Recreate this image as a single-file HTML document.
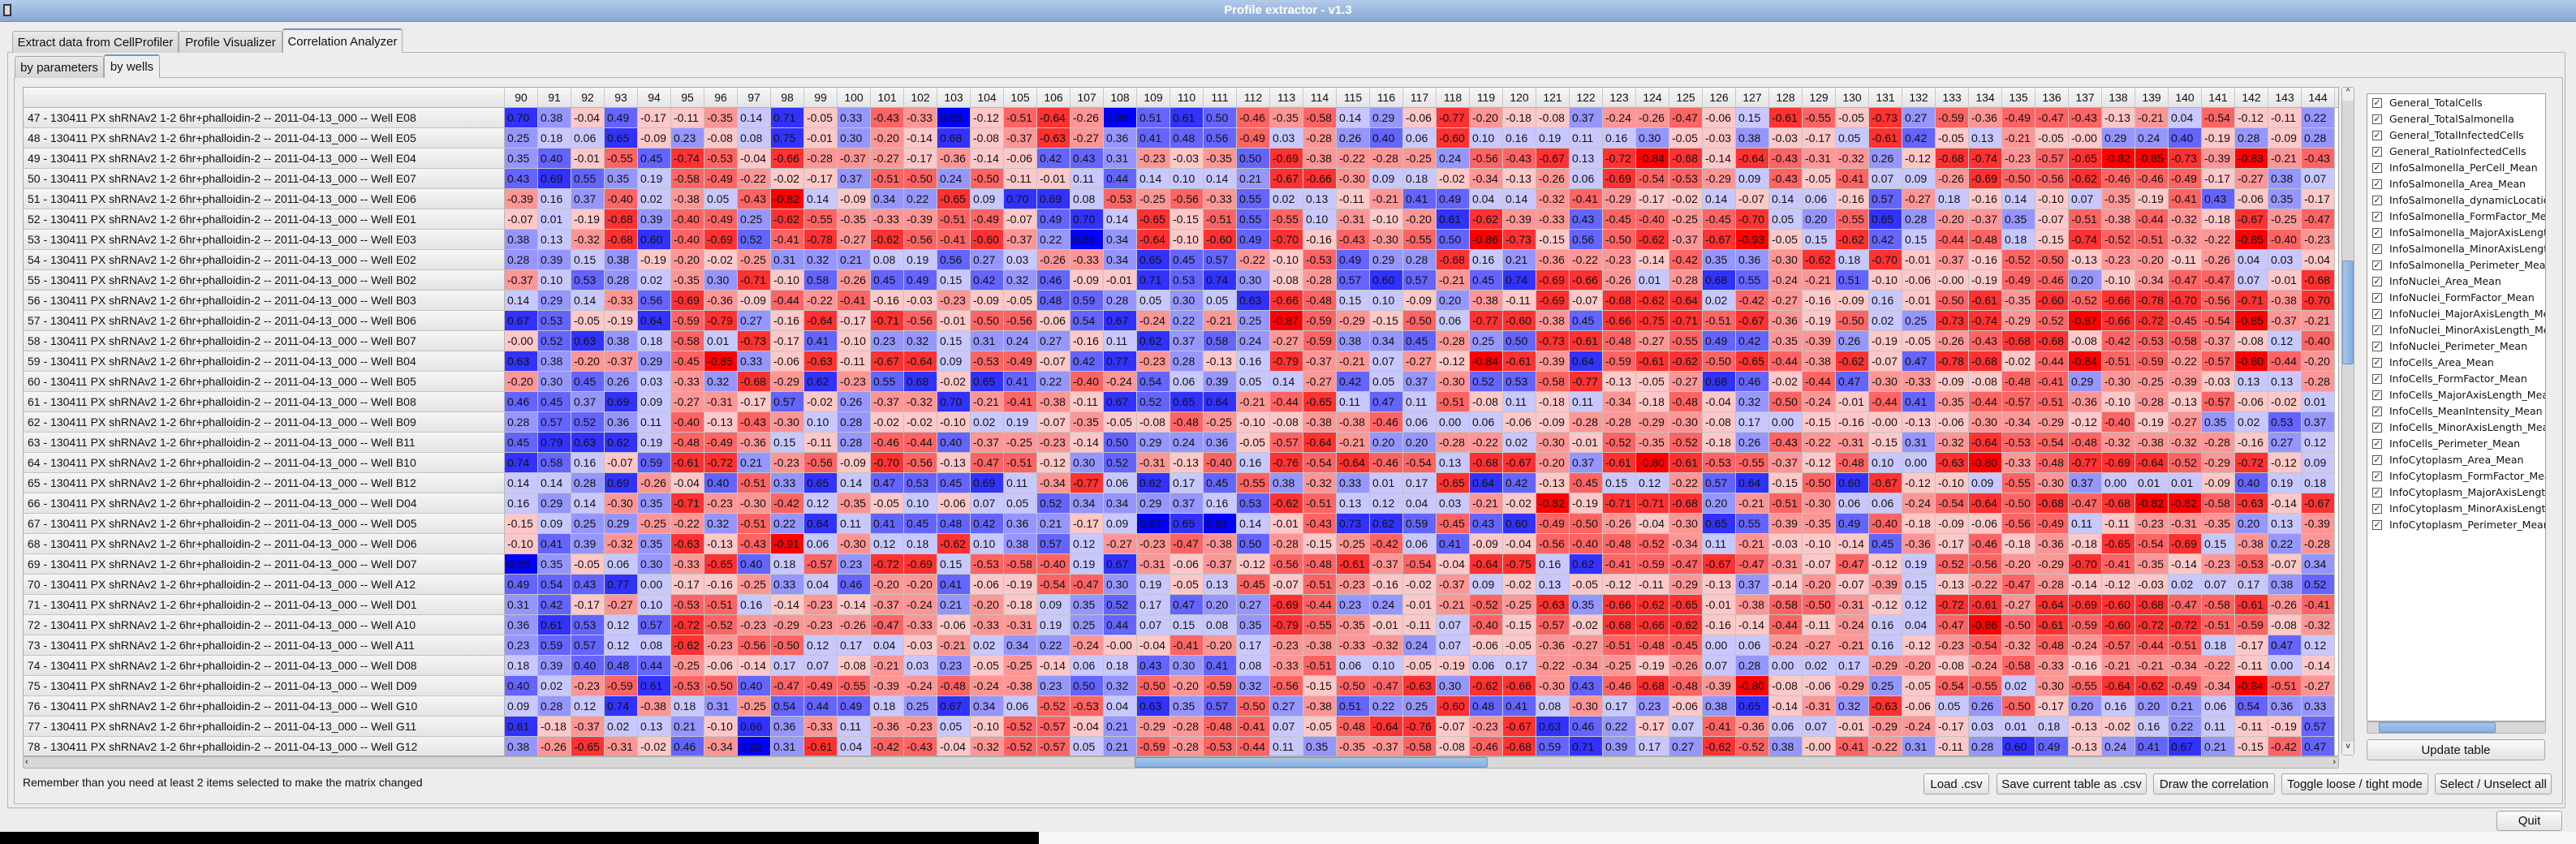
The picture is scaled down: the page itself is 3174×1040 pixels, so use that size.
<!DOCTYPE html>
<html><head><meta charset="utf-8">
<style>
*{box-sizing:border-box;margin:0;padding:0}
body{width:3174px;height:1040px;overflow:hidden;background:#eeedeb;font-family:"Liberation Sans",sans-serif;position:relative;color:#111}
.abs{position:absolute}
.tab{position:absolute;border:1px solid #a9a9a9;border-bottom:none;border-radius:3px 3px 0 0;background:linear-gradient(#e9e9e9,#d5d5d5);font-size:15px;display:flex;align-items:center;justify-content:center;white-space:nowrap}
.tab.sel{background:#efeeec;border-top:2px solid #6b95cc}
.btn{position:absolute;border:1px solid #a5a5a5;border-radius:3px;background:linear-gradient(#fbfbfb,#e3e3e3);font-size:15px;display:flex;align-items:center;justify-content:center;white-space:nowrap}
.cell{position:absolute;width:41px;height:25px;border-right:1px solid #c4c4c4;border-bottom:1px solid #c4c4c4;font-size:14px;line-height:24px;padding-left:3px;white-space:nowrap;overflow:hidden}
.hdr{position:absolute;height:25px;width:41px;top:0;border-right:1px solid #c8c8c8;border-bottom:1px solid #b0b0b0;background:linear-gradient(#f7f7f7,#e4e4e4);font-size:14px;line-height:24px;text-align:center}
.lbl{position:absolute;left:0;width:593px;height:25px;border-bottom:1px solid #c4c4c4;border-right:1px solid #b8b8b8;background:linear-gradient(#f6f6f6,#e4e4e4);font-size:14px;line-height:24px;padding-left:5px;white-space:nowrap;overflow:hidden}
.item{position:absolute;left:6px;height:20px;font-family:"DejaVu Sans",sans-serif;font-size:12.5px;line-height:20px;white-space:nowrap}
.cb{position:absolute;left:0;top:4px;width:12px;height:12px;border:1px solid #555;background:#fff;font-size:11px;line-height:10px;text-align:center;color:#222}
</style></head>
<body>
<div class="abs" style="left:0;top:0;width:3174px;height:27px;background:linear-gradient(#b3cbea,#87a7d4);border-bottom:1px solid #6d8dbd">
  <div class="abs" style="left:4px;top:5px;width:10px;height:15px;border:2px solid #333;background:#ddd"></div>
  <div class="abs" style="left:0;width:3174px;top:4px;text-align:center;font-size:15px;font-weight:bold;color:#fff">Profile extractor - v1.3</div>
</div>

<div class="abs" style="left:9px;top:64px;width:3152px;height:932px;border:1px solid #b4b4b4;border-radius:2px"></div>
<div class="tab" style="left:15px;top:38px;width:205px;height:27px">Extract data from CellProfiler</div>
<div class="tab" style="left:220px;top:38px;width:128px;height:27px">Profile Visualizer</div>
<div class="tab sel" style="left:348px;top:35px;width:148px;height:30px">Correlation Analyzer</div>

<div class="abs" style="left:17px;top:95px;width:3141px;height:896px;border:1px solid #b4b4b4;border-radius:2px"></div>
<div class="tab" style="left:18px;top:69px;width:110px;height:27px">by parameters</div>
<div class="tab sel" style="left:128px;top:67px;width:69px;height:29px">by wells</div>

<div class="abs" id="table" style="left:28px;top:107px;width:2854px;height:825px;overflow:hidden;background:#fff;border:1px solid #a8a8a8"></div>

<div class="abs" style="left:2885px;top:107px;width:16px;height:824px;background:#d8d8d8;border:1px solid #b0b0b0;border-radius:3px">
  <div class="abs" style="left:0;top:0;width:14px;height:16px;background:#eee;font-size:10px;text-align:center">^</div>
  <div class="abs" style="left:0;top:213px;width:14px;height:128px;background:linear-gradient(90deg,#a9c6ea,#86aee0);border:1px solid #6f95c8;border-radius:2px"></div>
  <div class="abs" style="left:0;bottom:0;width:14px;height:16px;background:#eee;font-size:10px;text-align:center">v</div>
</div>
<div class="abs" style="left:28px;top:932px;width:2854px;height:15px;background:#d8d8d8;border:1px solid #b0b0b0;border-radius:3px">
  <div class="abs" style="left:2px;top:0;font-size:11px">&lsaquo;</div>
  <div class="abs" style="left:1369px;top:0;width:435px;height:13px;background:linear-gradient(#a9c6ea,#86aee0);border:1px solid #6f95c8;border-radius:2px"></div>
  <div class="abs" style="right:3px;top:0;font-size:11px">&rsaquo;</div>
</div>

<div class="abs" id="list" style="left:2916px;top:115px;width:221px;height:774px;background:#fff;border:1px solid #a0a0a0;overflow:hidden"></div>
<div class="abs" style="left:2916px;top:889px;width:221px;height:15px;background:#d8d8d8;border:1px solid #b0b0b0;border-radius:3px">
  <div class="abs" style="left:14px;top:0;width:144px;height:13px;background:linear-gradient(#a9c6ea,#86aee0);border:1px solid #6f95c8;border-radius:2px"></div>
</div>
<div class="btn" style="left:2916px;top:911px;width:220px;height:26px">Update table</div>

<div class="abs" style="left:28px;top:956px;font-size:14px;white-space:nowrap">Remember than you need at least 2 items selected to make the matrix changed</div>
<div class="btn" style="left:2370px;top:953px;width:81px;height:26px">Load .csv</div>
<div class="btn" style="left:2460px;top:953px;width:185px;height:26px">Save current table as .csv</div>
<div class="btn" style="left:2653px;top:953px;width:150px;height:26px">Draw the correlation</div>
<div class="btn" style="left:2811px;top:953px;width:181px;height:26px">Toggle loose / tight mode</div>
<div class="btn" style="left:3000px;top:953px;width:144px;height:26px">Select / Unselect all</div>
<div class="btn" style="left:3076px;top:999px;width:81px;height:25px">Quit</div>

<div class="abs" style="left:0;top:1025px;width:1280px;height:15px;background:#000"></div>
<div class="abs" style="left:1280px;top:1025px;width:1894px;height:15px;background:#f7f7f7"></div>

<script>
const columns = [90,91,92,93,94,95,96,97,98,99,100,101,102,103,104,105,106,107,108,109,110,111,112,113,114,115,116,117,118,119,120,121,122,123,124,125,126,127,128,129,130,131,132,133,134,135,136,137,138,139,140,141,142,143,144];
const rowIds = [47,48,49,50,51,52,53,54,55,56,57,58,59,60,61,62,63,64,65,66,67,68,69,70,71,72,73,74,75,76,77,78];
const wells = ["E08","E05","E04","E07","E06","E01","E03","E02","B02","B03","B06","B07","B04","B05","B08","B09","B11","B10","B12","D04","D05","D06","D07","A12","D01","A10","A11","D08","D09","G10","G11","G12"];
const params = ["General_TotalCells","General_TotalSalmonella","General_TotalInfectedCells","General_RatioInfectedCells","InfoSalmonella_PerCell_Mean","InfoSalmonella_Area_Mean","InfoSalmonella_dynamicLocation_Mean","InfoSalmonella_FormFactor_Mean","InfoSalmonella_MajorAxisLength_Mean","InfoSalmonella_MinorAxisLength_Mean","InfoSalmonella_Perimeter_Mean","InfoNuclei_Area_Mean","InfoNuclei_FormFactor_Mean","InfoNuclei_MajorAxisLength_Mean","InfoNuclei_MinorAxisLength_Mean","InfoNuclei_Perimeter_Mean","InfoCells_Area_Mean","InfoCells_FormFactor_Mean","InfoCells_MajorAxisLength_Mean","InfoCells_MeanIntensity_Mean","InfoCells_MinorAxisLength_Mean","InfoCells_Perimeter_Mean","InfoCytoplasm_Area_Mean","InfoCytoplasm_FormFactor_Mean","InfoCytoplasm_MajorAxisLength_Mean","InfoCytoplasm_MinorAxisLength_Mean","InfoCytoplasm_Perimeter_Mean"];
const values = [
[0.70,0.38,-0.04,0.49,-0.17,-0.11,-0.35,0.14,0.71,-0.05,0.33,-0.43,-0.33,0.83,-0.12,-0.51,-0.64,-0.26,0.80,0.51,0.61,0.50,-0.46,-0.35,-0.58,0.14,0.29,-0.06,-0.77,-0.20,-0.18,-0.08,0.37,-0.24,-0.26,-0.47,-0.06,0.15,-0.61,-0.55,-0.05,-0.73,0.27,-0.59,-0.36,-0.49,-0.47,-0.43,-0.13,-0.21,0.04,-0.54,-0.12,-0.11,0.22],
[0.25,0.18,0.06,0.65,-0.09,0.23,-0.08,0.08,0.75,-0.01,0.30,-0.20,-0.14,0.68,-0.08,-0.37,-0.63,-0.27,0.36,0.41,0.48,0.56,-0.49,0.03,-0.28,0.26,0.40,0.06,-0.60,0.10,0.16,0.19,0.11,0.16,0.30,-0.05,-0.03,0.38,-0.03,-0.17,0.05,-0.61,0.42,-0.05,0.13,-0.21,-0.05,-0.00,0.29,0.24,0.40,-0.19,0.28,-0.09,0.28],
[0.35,0.40,-0.01,-0.55,0.45,-0.74,-0.53,-0.04,-0.66,-0.28,-0.37,-0.27,-0.17,-0.36,-0.14,-0.06,0.42,0.43,0.31,-0.23,-0.03,-0.35,0.50,-0.69,-0.38,-0.22,-0.28,-0.25,0.24,-0.56,-0.43,-0.67,0.13,-0.72,-0.84,-0.68,-0.14,-0.64,-0.43,-0.31,-0.32,0.26,-0.12,-0.68,-0.74,-0.23,-0.57,-0.65,-0.82,-0.85,-0.73,-0.39,-0.83,-0.21,-0.43],
[0.43,0.69,0.55,0.35,0.19,-0.58,-0.49,-0.22,-0.02,-0.17,0.37,-0.51,-0.50,0.24,-0.50,-0.11,-0.01,0.11,0.44,0.14,0.10,0.14,0.21,-0.67,-0.66,-0.30,0.09,0.18,-0.02,-0.34,-0.13,-0.26,0.06,-0.69,-0.54,-0.53,-0.29,0.09,-0.43,-0.05,-0.41,0.07,0.09,-0.26,-0.69,-0.50,-0.56,-0.62,-0.46,-0.46,-0.49,-0.17,-0.27,0.38,0.07],
[-0.39,0.16,0.37,-0.40,0.02,-0.38,0.05,-0.43,-0.82,0.14,-0.09,0.34,0.22,-0.65,0.09,0.70,0.69,0.08,-0.53,-0.25,-0.56,-0.33,0.55,0.02,0.13,-0.11,-0.21,0.41,0.49,0.04,0.14,-0.32,-0.41,-0.29,-0.17,-0.02,0.14,-0.07,0.14,0.06,-0.16,0.57,-0.27,0.18,-0.16,0.14,-0.10,0.07,-0.35,-0.19,-0.41,0.43,-0.06,0.35,-0.17],
[-0.07,0.01,-0.19,-0.68,0.39,-0.40,-0.49,0.25,-0.62,-0.55,-0.35,-0.33,-0.39,-0.51,-0.49,-0.07,0.49,0.70,0.14,-0.65,-0.15,-0.51,0.55,-0.55,0.10,-0.31,-0.10,-0.20,0.61,-0.62,-0.39,-0.33,0.43,-0.45,-0.40,-0.25,-0.45,-0.70,0.05,0.20,-0.55,0.65,0.28,-0.20,-0.37,0.35,-0.07,-0.51,-0.38,-0.44,-0.32,-0.18,-0.67,-0.25,-0.47],
[0.38,0.13,-0.32,-0.68,0.60,-0.40,-0.69,0.52,-0.41,-0.78,-0.27,-0.62,-0.56,-0.41,-0.60,-0.37,0.22,0.81,0.34,-0.64,-0.10,-0.60,0.49,-0.70,-0.16,-0.43,-0.30,-0.55,0.50,-0.86,-0.73,-0.15,0.56,-0.50,-0.62,-0.37,-0.67,-0.93,-0.05,0.15,-0.62,0.42,0.15,-0.44,-0.48,0.18,-0.15,-0.74,-0.52,-0.51,-0.32,-0.22,-0.85,-0.40,-0.23],
[0.28,0.39,0.15,0.38,-0.19,-0.20,-0.02,-0.25,0.31,0.32,0.21,0.08,0.19,0.56,0.27,0.03,-0.26,-0.33,0.34,0.65,0.45,0.57,-0.22,-0.10,-0.53,0.49,0.29,0.28,-0.68,0.16,0.21,-0.36,-0.22,-0.23,-0.14,-0.42,0.35,0.36,-0.30,-0.62,0.18,-0.70,-0.01,-0.37,-0.16,-0.52,-0.50,-0.13,-0.23,-0.20,-0.11,-0.26,0.04,0.03,-0.04],
[-0.37,0.10,0.53,0.28,0.02,-0.35,0.30,-0.71,-0.10,0.58,-0.26,0.45,0.49,0.15,0.42,0.32,0.46,-0.09,-0.01,0.71,0.53,0.74,0.30,-0.08,-0.28,0.57,0.60,0.57,-0.21,0.45,0.74,-0.69,-0.66,-0.26,0.01,-0.28,0.68,0.55,-0.24,-0.21,0.51,-0.10,-0.06,-0.00,-0.19,-0.49,-0.46,0.20,-0.10,-0.34,-0.47,-0.47,0.07,-0.01,-0.68],
[0.14,0.29,0.14,-0.33,0.56,-0.69,-0.36,-0.09,-0.44,-0.22,-0.41,-0.16,-0.03,-0.23,-0.09,-0.05,0.48,0.59,0.28,0.05,0.30,0.05,0.63,-0.66,-0.48,0.15,0.10,-0.09,0.20,-0.38,-0.11,-0.69,-0.07,-0.68,-0.62,-0.64,0.02,-0.42,-0.27,-0.16,-0.09,0.16,-0.01,-0.50,-0.61,-0.35,-0.60,-0.52,-0.66,-0.78,-0.70,-0.56,-0.71,-0.38,-0.70],
[0.67,0.53,-0.05,-0.19,0.64,-0.59,-0.79,0.27,-0.16,-0.64,-0.17,-0.71,-0.56,-0.01,-0.50,-0.56,-0.06,0.54,0.67,-0.24,0.22,-0.21,0.25,-0.87,-0.59,-0.29,-0.15,-0.50,0.06,-0.77,-0.60,-0.38,0.45,-0.66,-0.75,-0.71,-0.51,-0.67,-0.36,-0.19,-0.50,0.02,0.25,-0.73,-0.74,-0.29,-0.52,-0.87,-0.66,-0.72,-0.45,-0.54,-0.85,-0.37,-0.21],
[-0.00,0.52,0.63,0.38,0.18,-0.58,0.01,-0.73,-0.17,0.41,-0.10,0.23,0.32,0.15,0.31,0.24,0.27,-0.16,0.11,0.62,0.37,0.58,0.24,-0.27,-0.59,0.38,0.34,0.45,-0.28,0.25,0.50,-0.73,-0.61,-0.48,-0.27,-0.55,0.49,0.42,-0.35,-0.39,0.26,-0.19,-0.05,-0.26,-0.43,-0.68,-0.68,-0.08,-0.42,-0.53,-0.58,-0.37,-0.08,0.12,-0.40],
[0.63,0.38,-0.20,-0.37,0.29,-0.45,-0.85,0.33,-0.06,-0.63,-0.11,-0.67,-0.64,0.09,-0.53,-0.49,-0.07,0.42,0.77,-0.23,0.28,-0.13,0.16,-0.79,-0.37,-0.21,0.07,-0.27,-0.12,-0.84,-0.61,-0.39,0.64,-0.59,-0.61,-0.62,-0.50,-0.65,-0.44,-0.38,-0.62,-0.07,0.47,-0.78,-0.68,-0.02,-0.44,-0.84,-0.51,-0.59,-0.22,-0.57,-0.80,-0.44,-0.20],
[-0.20,0.30,0.45,0.26,0.03,-0.33,0.32,-0.68,-0.29,0.62,-0.23,0.55,0.68,-0.02,0.65,0.41,0.22,-0.40,-0.24,0.54,0.06,0.39,0.05,0.14,-0.27,0.42,0.05,0.37,-0.30,0.52,0.53,-0.58,-0.77,-0.13,-0.05,-0.27,0.68,0.46,-0.02,-0.44,0.47,-0.30,-0.33,-0.09,-0.08,-0.48,-0.41,0.29,-0.30,-0.25,-0.39,-0.03,0.13,0.13,-0.28],
[0.46,0.45,0.37,0.69,0.09,-0.27,-0.31,-0.17,0.57,-0.02,0.26,-0.37,-0.32,0.70,-0.21,-0.41,-0.38,-0.11,0.67,0.52,0.65,0.64,-0.21,-0.44,-0.65,0.11,0.47,0.11,-0.51,-0.08,0.11,-0.18,0.11,-0.34,-0.18,-0.48,-0.04,0.32,-0.50,-0.24,-0.01,-0.44,0.41,-0.35,-0.44,-0.57,-0.51,-0.36,-0.10,-0.28,-0.13,-0.57,-0.06,-0.02,0.01],
[0.28,0.57,0.52,0.36,0.11,-0.40,-0.13,-0.43,-0.30,0.10,0.28,-0.02,-0.02,-0.10,0.02,0.19,-0.07,-0.35,-0.05,-0.08,-0.48,-0.25,-0.10,-0.08,-0.38,-0.38,-0.46,0.06,0.00,0.06,-0.06,-0.09,-0.28,-0.28,-0.29,-0.30,-0.08,0.17,0.00,-0.15,-0.16,-0.00,-0.13,-0.06,-0.30,-0.34,-0.29,-0.12,-0.40,-0.19,-0.27,0.35,0.02,0.53,0.37],
[0.45,0.79,0.63,0.62,0.19,-0.48,-0.49,-0.36,0.15,-0.11,0.28,-0.46,-0.44,0.40,-0.37,-0.25,-0.23,-0.14,0.50,0.29,0.24,0.36,-0.05,-0.57,-0.64,-0.21,0.20,0.20,-0.28,-0.22,0.02,-0.30,-0.01,-0.52,-0.35,-0.52,-0.18,0.26,-0.43,-0.22,-0.31,-0.15,0.31,-0.32,-0.64,-0.53,-0.54,-0.48,-0.32,-0.38,-0.32,-0.28,-0.16,0.27,0.12],
[0.74,0.58,0.16,-0.07,0.59,-0.61,-0.72,0.21,-0.23,-0.56,-0.09,-0.70,-0.56,-0.13,-0.47,-0.51,-0.12,0.30,0.52,-0.31,-0.13,-0.40,0.16,-0.76,-0.54,-0.64,-0.46,-0.54,0.13,-0.68,-0.67,-0.20,0.37,-0.61,-0.80,-0.61,-0.53,-0.55,-0.37,-0.12,-0.48,0.10,0.00,-0.63,-0.80,-0.33,-0.48,-0.77,-0.69,-0.64,-0.52,-0.29,-0.72,-0.12,0.09],
[0.14,0.14,0.28,0.69,-0.26,-0.04,0.40,-0.51,0.33,0.65,0.14,0.47,0.53,0.45,0.69,0.11,-0.34,-0.77,0.06,0.62,0.17,0.45,-0.55,0.38,-0.32,0.33,0.01,0.17,-0.65,0.64,0.42,-0.13,-0.45,0.15,0.12,-0.22,0.57,0.64,-0.15,-0.50,0.60,-0.67,-0.12,-0.10,0.09,-0.55,-0.30,0.37,0.00,0.01,0.01,-0.09,0.40,0.19,0.18],
[0.16,0.29,0.14,-0.30,0.35,-0.71,-0.23,-0.30,-0.42,0.12,-0.35,-0.05,0.10,-0.06,0.07,0.05,0.52,0.34,0.34,0.29,0.37,0.16,0.53,-0.62,-0.51,0.13,0.12,0.04,0.03,-0.21,-0.02,-0.82,-0.19,-0.71,-0.71,-0.68,0.20,-0.21,-0.51,-0.30,0.06,0.06,-0.24,-0.54,-0.64,-0.50,-0.68,-0.47,-0.68,-0.82,-0.82,-0.58,-0.63,-0.14,-0.67],
[-0.15,0.09,0.25,0.29,-0.25,-0.22,0.32,-0.51,0.22,0.64,0.11,0.41,0.45,0.48,0.42,0.36,0.21,-0.17,0.09,0.87,0.65,0.81,0.14,-0.01,-0.43,0.73,0.62,0.59,-0.45,0.43,0.60,-0.49,-0.50,-0.26,-0.04,-0.30,0.65,0.55,-0.39,-0.35,0.49,-0.40,-0.18,-0.09,-0.06,-0.56,-0.49,0.11,-0.11,-0.23,-0.31,-0.35,0.20,0.13,-0.39],
[-0.10,0.41,0.39,-0.32,0.35,-0.63,-0.13,-0.43,-0.91,0.06,-0.30,0.12,0.18,-0.62,0.10,0.38,0.57,0.12,-0.27,-0.23,-0.47,-0.38,0.50,-0.28,-0.15,-0.25,-0.42,0.06,0.41,-0.09,-0.04,-0.56,-0.40,-0.48,-0.52,-0.34,0.11,-0.21,-0.03,-0.10,-0.14,0.45,-0.36,-0.17,-0.46,-0.18,-0.36,-0.18,-0.65,-0.54,-0.69,0.15,-0.38,0.22,-0.28],
[0.85,0.35,-0.05,0.06,0.30,-0.33,-0.65,0.40,0.18,-0.57,0.23,-0.72,-0.69,0.15,-0.53,-0.58,-0.40,0.19,0.67,-0.31,-0.06,-0.37,-0.12,-0.56,-0.48,-0.61,-0.37,-0.54,-0.04,-0.64,-0.75,0.16,0.62,-0.41,-0.59,-0.47,-0.67,-0.47,-0.31,-0.07,-0.47,-0.12,0.19,-0.52,-0.56,-0.20,-0.29,-0.70,-0.41,-0.35,-0.14,-0.23,-0.53,-0.07,0.34],
[0.49,0.54,0.43,0.77,0.00,-0.17,-0.16,-0.25,0.33,0.04,0.46,-0.20,-0.20,0.41,-0.06,-0.19,-0.54,-0.47,0.30,0.19,-0.05,0.13,-0.45,-0.07,-0.51,-0.23,-0.16,-0.02,-0.37,0.09,-0.02,0.13,-0.05,-0.12,-0.11,-0.29,-0.13,0.37,-0.14,-0.20,-0.07,-0.39,0.15,-0.13,-0.22,-0.47,-0.28,-0.14,-0.12,-0.03,0.02,0.07,0.17,0.38,0.52],
[0.31,0.42,-0.17,-0.27,0.10,-0.53,-0.51,0.16,-0.14,-0.23,-0.14,-0.37,-0.24,0.21,-0.20,-0.18,0.09,0.35,0.52,0.17,0.47,0.20,0.27,-0.69,-0.44,0.23,0.24,-0.01,-0.21,-0.52,-0.25,-0.63,0.35,-0.66,-0.62,-0.65,-0.01,-0.38,-0.58,-0.50,-0.31,-0.12,0.12,-0.72,-0.61,-0.27,-0.64,-0.69,-0.60,-0.68,-0.47,-0.58,-0.61,-0.26,-0.41],
[0.36,0.61,0.53,0.12,0.57,-0.72,-0.52,-0.23,-0.29,-0.23,-0.26,-0.47,-0.33,-0.06,-0.33,-0.31,0.19,0.25,0.44,0.07,0.15,0.08,0.35,-0.79,-0.55,-0.35,-0.01,-0.11,0.07,-0.40,-0.15,-0.57,-0.02,-0.68,-0.66,-0.62,-0.16,-0.14,-0.44,-0.11,-0.24,0.16,0.04,-0.47,-0.86,-0.50,-0.61,-0.59,-0.60,-0.72,-0.72,-0.51,-0.59,-0.08,-0.32],
[0.23,0.59,0.57,0.12,0.08,-0.62,-0.23,-0.56,-0.50,0.12,0.17,0.04,-0.03,-0.21,0.02,0.34,0.22,-0.24,-0.00,-0.04,-0.41,-0.20,0.17,-0.23,-0.38,-0.33,-0.32,0.24,0.07,-0.06,-0.05,-0.36,-0.27,-0.51,-0.48,-0.45,0.00,0.06,-0.24,-0.27,-0.21,0.16,-0.12,-0.23,-0.54,-0.32,-0.48,-0.24,-0.57,-0.44,-0.51,0.18,-0.17,0.47,0.12],
[0.18,0.39,0.40,0.48,0.44,-0.25,-0.06,-0.14,0.17,0.07,-0.08,-0.21,0.03,0.23,-0.05,-0.25,-0.14,0.06,0.18,0.43,0.30,0.41,0.08,-0.33,-0.51,0.06,0.10,-0.05,-0.19,0.06,0.17,-0.22,-0.34,-0.25,-0.19,-0.26,0.07,0.28,0.00,0.02,0.17,-0.29,-0.20,-0.08,-0.24,-0.58,-0.33,-0.16,-0.21,-0.21,-0.34,-0.22,-0.11,0.00,-0.14],
[0.40,0.02,-0.23,-0.59,0.61,-0.53,-0.50,0.40,-0.47,-0.49,-0.55,-0.39,-0.24,-0.48,-0.24,-0.38,0.23,0.50,0.32,-0.50,-0.20,-0.59,0.32,-0.56,-0.15,-0.50,-0.47,-0.63,0.30,-0.62,-0.66,-0.30,0.43,-0.46,-0.68,-0.48,-0.39,-0.80,-0.08,-0.06,-0.29,0.25,-0.05,-0.54,-0.55,0.02,-0.30,-0.55,-0.64,-0.62,-0.49,-0.34,-0.84,-0.51,-0.27],
[0.09,0.28,0.12,0.74,-0.38,0.18,0.31,-0.25,0.54,0.44,0.49,0.18,0.25,0.67,0.34,0.06,-0.52,-0.53,0.04,0.63,0.35,0.57,-0.50,0.27,-0.38,0.51,0.22,0.25,-0.60,0.48,0.41,0.08,-0.30,0.17,0.23,-0.06,0.38,0.65,-0.14,-0.31,0.32,-0.63,-0.06,0.05,0.26,-0.50,-0.17,0.20,0.16,0.20,0.21,0.06,0.54,0.36,0.33],
[0.61,-0.18,-0.37,0.02,0.13,0.21,-0.10,0.66,0.36,-0.33,0.11,-0.36,-0.23,0.05,-0.10,-0.52,-0.57,-0.04,0.21,-0.29,-0.28,-0.48,-0.41,0.07,-0.05,-0.48,-0.64,-0.76,-0.07,-0.23,-0.67,0.63,0.46,0.22,-0.17,0.07,-0.41,-0.36,0.06,0.07,-0.01,-0.29,-0.24,-0.17,0.03,0.01,0.18,-0.13,-0.02,0.16,0.22,0.11,-0.11,-0.19,0.57],
[0.38,-0.26,-0.65,-0.31,-0.02,0.46,-0.34,0.82,0.31,-0.61,0.04,-0.42,-0.43,-0.04,-0.32,-0.52,-0.57,0.05,0.21,-0.59,-0.28,-0.53,-0.44,0.11,0.35,-0.35,-0.37,-0.58,-0.08,-0.46,-0.68,0.59,0.71,0.39,0.17,0.27,-0.62,-0.52,0.38,-0.00,-0.41,-0.22,0.31,-0.11,0.28,0.60,0.49,-0.13,0.24,0.41,0.67,0.21,-0.15,-0.42,0.47]
];

const LABEL_W = 593, COL_W = 41, ROW_H = 25, HEAD_H = 25;
const xScale = j => LABEL_W + j * COL_W;
const yScale = i => HEAD_H + i * ROW_H;
const blues = ['#c8c8ff','#9696ff','#6464ff','#3232ff','#0000ff'];
const reds = ['#ffc8c8','#ff9696','#ff6464','#ff3232','#ff0000'];
function colorFor(v){
  const neg = v < 0 || Object.is(v, -0);
  const bin = Math.min(4, Math.floor(Math.abs(v) * 5 + 1e-9));
  return neg ? reds[bin] : blues[bin];
}
function fmt(v){
  const s = Math.abs(v).toFixed(2);
  return (v < 0 || Object.is(v, -0)) ? '-' + s : s;
}

const table = document.getElementById('table');
const corner = document.createElement('div');
corner.className = 'hdr';
corner.style.left = '0px'; corner.style.width = LABEL_W + 'px';


table.appendChild(corner);

columns.forEach((c, j) => {
  const h = document.createElement('div');
  h.className = 'hdr';
  h.style.left = xScale(j) + 'px';
  h.textContent = c;
  
  
  table.appendChild(h);
});
const extra = document.createElement('div');
extra.className = 'hdr';
extra.style.left = xScale(columns.length) + 'px';


table.appendChild(extra);

rowIds.forEach((r, i) => {
  const l = document.createElement('div');
  l.className = 'lbl';
  l.style.top = yScale(i) + 'px';
  l.textContent = r + ' - 130411 PX shRNAv2 1-2 6hr+phalloidin-2 -- 2011-04-13_000 -- Well ' + wells[i];
  
  
  table.appendChild(l);
  values[i].forEach((v, j) => {
    const c = document.createElement('div');
    c.className = 'cell';
    c.style.left = xScale(j) + 'px';
    c.style.top = yScale(i) + 'px';
    c.style.background = colorFor(v);
    c.textContent = fmt(v);
    
    
    table.appendChild(c);
  });
});

const list = document.getElementById('list');
params.forEach((p, k) => {
  const it = document.createElement('div');
  it.className = 'item';
  it.style.top = (1 + k * 20) + 'px';
  
  
  const cb = document.createElement('div');
  cb.className = 'cb';
  cb.textContent = '\u2713';
  
  
  const t = document.createElement('span');
  t.style.marginLeft = '21px';
  t.textContent = p;
  it.appendChild(cb); it.appendChild(t);
  list.appendChild(it);
});
</script>
</body></html>
